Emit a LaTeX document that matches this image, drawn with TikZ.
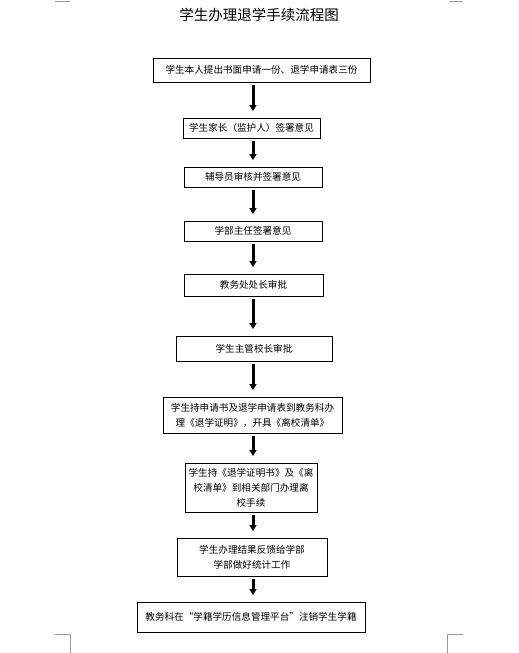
\documentclass[tikz,border=0pt]{standalone}
\usepackage{fontspec}
\setmainfont{Noto Sans CJK SC}
\usetikzlibrary{arrows.meta}
\begin{document}
\begin{tikzpicture}[x=1pt,y=-1pt,every node/.style={inner sep=0pt, outer sep=0pt, font=\fontsize{9.6}{15}\selectfont},
  stepbox/.style={draw, line width=0.9pt, align=center},
  flow/.style={line width=3pt, -{Triangle[width=7pt,length=6pt]}, shorten <=3pt, shorten >=7pt},
  cornermark/.style={draw=black!40, line width=0.8pt}]
\useasboundingbox (0,0) rectangle (519,653);
\coordinate (spine) at (253,0);
\node (title) at (259,15) {\fontsize{14.5}{16}\selectfont 学生办理退学手续流程图};
\node[stepbox, minimum width=217pt, minimum height=24pt] (apply) at (261.5,70) {学生本人提出书面申请一份、退学申请表三份};
\node[stepbox, minimum width=137pt, minimum height=20pt] (parent) at (251.5,128) {学生家长（监护人）签署意见};
\node[stepbox, minimum width=138pt, minimum height=20pt] (tutor) at (253,177) {辅导员审核并签署意见};
\node[stepbox, minimum width=138pt, minimum height=20pt] (dean) at (253,231) {学部主任签署意见};
\node[stepbox, minimum width=139pt, minimum height=22pt] (office) at (253.5,285) {教务处处长审批};
\node[stepbox, minimum width=156pt, minimum height=25pt] (vicepres) at (254,348.5) {学生主管校长审批};
\node[stepbox, minimum width=179pt, minimum height=36pt] (proof) at (252.5,415) {学生持申请书及退学申请表到教务科办\\理《退学证明》，开具《离校清单》};
\node[stepbox, minimum width=132pt, minimum height=49pt] (leave) at (251,487.5) {学生持《退学证明书》及《离\\校清单》到相关部门办理离\\校手续};
\node[stepbox, minimum width=150pt, minimum height=38pt] (report) at (252,557) {学生办理结果反馈给学部\\学部做好统计工作};
\node[stepbox, minimum width=228pt, minimum height=30pt] (cancel) at (251,617) {教务科在“学籍学历信息管理平台”注销学生学籍};
\draw[flow] (apply.south -| spine) -- (parent.north -| spine);
\draw[flow] (parent.south -| spine) -- (tutor.north -| spine);
\draw[flow] (tutor.south -| spine) -- (dean.north -| spine);
\draw[flow] (dean.south -| spine) -- (office.north -| spine);
\draw[flow] (office.south -| spine) -- (vicepres.north -| spine);
\draw[flow] (vicepres.south -| spine) -- (proof.north -| spine);
\draw[flow] (proof.south -| spine) -- (leave.north -| spine);
\draw[flow] (leave.south -| spine) -- (report.north -| spine);
\draw[flow] (report.south -| spine) -- (cancel.north -| spine);
\draw[cornermark] (55,1) -- (70,1);
\draw[cornermark] (449,1) -- (463,1);
\draw[cornermark] (55,634) -- (70,634) -- (70,653);
\draw[cornermark] (447,653) -- (447,634) -- (463,634);
\end{tikzpicture}
\end{document}
